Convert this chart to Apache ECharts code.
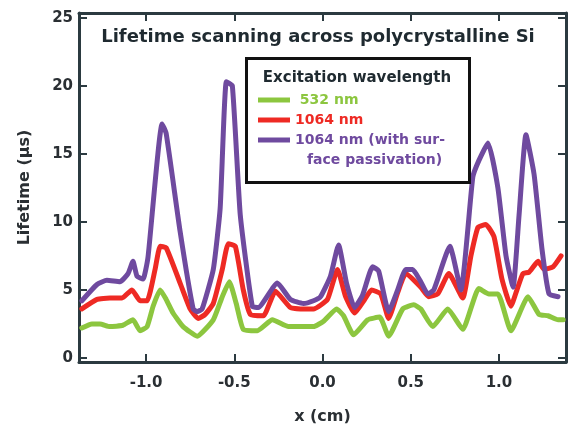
<!DOCTYPE html>
<html>
<head>
<meta charset="utf-8">
<script src="https://cdn.jsdelivr.net/npm/echarts@6/dist/echarts.min.js"></script>
<style>
html,body{margin:0;padding:0;background:#fff;}
#chart{width:569px;height:430px;}
</style>
</head>
<body>
<div id="chart"></div>
<script>
// ---- Data (x in cm, lifetime in µs) ----
var seriesNames = ['532 nm', '1064 nm', '1064 nm (with surface passivation)'];
var legendLabels = [' 532 nm', '1064 nm', '1064 nm (with sur-'];
var legendContinuation = 'face passivation)';
var xTicks = [-1.0, -0.5, 0.0, 0.5, 1.0];
var yTicks = [0, 5, 10, 15, 20, 25];

var greenX = [-1.364,-1.307,-1.261,-1.205,-1.131,-1.074,-1.034,-0.994,-0.960,-0.920,-0.886,-0.847,-0.790,-0.710,-0.619,-0.568,-0.528,-0.489,-0.449,-0.369,-0.284,-0.193,-0.051,0.006,0.080,0.119,0.176,0.256,0.324,0.375,0.455,0.517,0.557,0.625,0.710,0.795,0.886,0.943,0.994,1.068,1.165,1.227,1.278,1.335,1.364];
var greenY = [2.2,2.5,2.5,2.3,2.4,2.8,2.0,2.3,3.8,5.0,4.3,3.3,2.3,1.6,2.8,4.5,5.6,4.0,2.1,2.0,2.8,2.3,2.3,2.7,3.6,3.1,1.7,2.8,3.0,1.6,3.6,3.9,3.6,2.3,3.6,2.1,5.1,4.7,4.7,2.0,4.5,3.2,3.1,2.8,2.8];

var redX = [-1.364,-1.278,-1.205,-1.136,-1.080,-1.034,-0.994,-0.949,-0.920,-0.886,-0.807,-0.750,-0.705,-0.665,-0.619,-0.568,-0.534,-0.494,-0.449,-0.409,-0.335,-0.267,-0.182,-0.125,-0.051,0.028,0.085,0.131,0.182,0.239,0.278,0.330,0.375,0.426,0.472,0.557,0.602,0.653,0.716,0.795,0.841,0.881,0.926,0.972,1.017,1.068,1.102,1.136,1.170,1.222,1.256,1.307,1.352];
var redY = [3.6,4.3,4.4,4.4,5.0,4.2,4.2,6.5,8.2,8.1,5.5,3.6,2.9,3.2,4.0,6.5,8.4,8.2,5.0,3.2,3.1,4.9,3.7,3.6,3.6,4.3,6.5,4.5,3.3,4.3,5.0,4.7,2.9,4.8,6.2,5.2,4.5,4.7,6.2,4.4,7.5,9.6,9.8,8.9,5.8,3.8,5.0,6.2,6.3,7.1,6.5,6.7,7.5];

var purpleX = [-1.364,-1.278,-1.222,-1.148,-1.102,-1.074,-1.051,-1.017,-0.989,-0.909,-0.886,-0.807,-0.733,-0.710,-0.682,-0.619,-0.580,-0.545,-0.511,-0.466,-0.398,-0.364,-0.256,-0.182,-0.108,-0.051,-0.011,0.045,0.091,0.136,0.182,0.227,0.284,0.318,0.375,0.426,0.472,0.511,0.557,0.597,0.631,0.722,0.784,0.852,0.886,0.938,0.994,1.040,1.080,1.114,1.153,1.199,1.244,1.284,1.335];
var purpleY = [4.2,5.4,5.7,5.6,6.2,7.1,6.0,5.8,7.4,17.2,16.5,9.3,3.6,3.4,3.6,6.5,11.0,20.3,20.0,10.5,3.8,3.7,5.5,4.3,4.0,4.2,4.5,6.0,8.3,5.5,3.7,4.6,6.7,6.4,3.4,5.0,6.5,6.5,5.6,4.7,5.0,8.2,5.0,13.3,14.5,15.8,12.5,7.5,5.2,10.5,16.4,13.5,8.0,4.7,4.5];

var colors = ['#8cc63f', '#ee2a24', '#6f4a9f'];
var axisColor = '#2b3a40';
var fontFam = '"DejaVu Sans", sans-serif';

function pairs(xs, ys) { return xs.map(function (x, i) { return [x, ys[i]]; }); }

var chart = echarts.init(document.getElementById('chart'), null, {renderer: 'canvas'});

var axisLine = {show: true, onZero: false, lineStyle: {color: axisColor, width: 3}};
var axisTick = {show: true, inside: true, length: 8, lineStyle: {color: axisColor, width: 2}};

function lineSeries(name, data, color) {
  return {
    name: name, type: 'line', data: data, showSymbol: false, symbol: 'none',
    smooth: 0.15, color: color,
    lineStyle: {width: 5, color: color, cap: 'round', join: 'round'},
    silent: true, animation: false
  };
}

var option = {
  animation: false,
  backgroundColor: '#fff',
  grid: {left: 79, right: 3, top: 13, bottom: 64, containLabel: false},
  xAxis: [{
    type: 'value', min: -1.38, max: 1.38, splitNumber: 5, position: 'bottom',
    axisLine: axisLine, axisTick: axisTick, splitLine: {show: false},
    axisLabel: {
      show: true, margin: 14, showMinLabel: false, showMaxLabel: false,
      color: '#2a2f33', fontFamily: fontFam, fontWeight: 'bold', fontSize: 15,
      formatter: function (v) {
        for (var i = 0; i < xTicks.length; i++) if (Math.abs(v - xTicks[i]) < 1e-6) return xTicks[i].toFixed(1);
        return '';
      }
    },
    name: 'x (cm)', nameLocation: 'middle', nameGap: 47,
    nameTextStyle: {color: '#2a2f33', fontFamily: fontFam, fontWeight: 'bold', fontSize: 16}
  }, {
    type: 'value', min: -1.38, max: 1.38, splitNumber: 5, position: 'top',
    axisLine: axisLine, axisTick: axisTick, splitLine: {show: false}, axisLabel: {show: false}
  }],
  yAxis: [{
    type: 'value', min: -0.3, max: 25.35, splitNumber: 5, position: 'left',
    axisLine: axisLine, axisTick: axisTick, splitLine: {show: false},
    axisLabel: {
      show: true, margin: 6, showMinLabel: false, showMaxLabel: false,
      color: '#2a2f33', fontFamily: fontFam, fontWeight: 'bold', fontSize: 15,
      formatter: function (v) {
        for (var i = 0; i < yTicks.length; i++) if (Math.abs(v - yTicks[i]) < 1e-6) return String(yTicks[i]);
        return '';
      }
    },
    name: 'Lifetime (µs)', nameLocation: 'middle', nameGap: 46,
    nameTextStyle: {color: '#2a2f33', fontFamily: fontFam, fontWeight: 'bold', fontSize: 16}
  }, {
    type: 'value', min: -0.3, max: 25.35, splitNumber: 5, position: 'right',
    axisLine: axisLine, axisTick: axisTick, splitLine: {show: false}, axisLabel: {show: false}
  }],
  legend: {
    show: true, orient: 'vertical', left: 258, top: 90, padding: 0,
    itemWidth: 32, itemHeight: 5, itemGap: 0, icon: 'rect',
    selectedMode: false,
    textStyle: {fontFamily: fontFam, fontWeight: 'bold', fontSize: 14, lineHeight: 20},
    data: seriesNames.map(function (n, i) {
      return {name: n, textStyle: {color: colors[i]}};
    }),
    formatter: function (name) { return legendLabels[seriesNames.indexOf(name)]; }
  },
  graphic: [
    {type: 'rect', left: 245, top: 57, shape: {width: 223, height: 124},
     style: {fill: 'rgba(0,0,0,0)', stroke: '#111', lineWidth: 3}, z: 10, silent: true},
    {type: 'text', x: 357, y: 78, z: 11, silent: true,
     style: {text: 'Excitation wavelength', fill: '#1f2a30', font: 'bold 15px "DejaVu Sans", sans-serif', textAlign: 'center', textVerticalAlign: 'middle'}},
    {type: 'text', x: 307, y: 160, z: 11, silent: true,
     style: {text: legendContinuation, fill: colors[2], font: 'bold 14px "DejaVu Sans", sans-serif', textAlign: 'left', textVerticalAlign: 'middle'}},
    {type: 'text', x: 318, y: 37, z: 11, silent: true,
     style: {text: 'Lifetime scanning across polycrystalline Si', fill: '#1f2a30', font: 'bold 18px "DejaVu Sans", sans-serif', textAlign: 'center', textVerticalAlign: 'middle'}}
  ],
  series: [
    lineSeries(seriesNames[0], pairs(greenX, greenY), colors[0]),
    lineSeries(seriesNames[1], pairs(redX, redY), colors[1]),
    lineSeries(seriesNames[2], pairs(purpleX, purpleY), colors[2])
  ]
};
chart.setOption(option);
</script>
</body>
</html>
